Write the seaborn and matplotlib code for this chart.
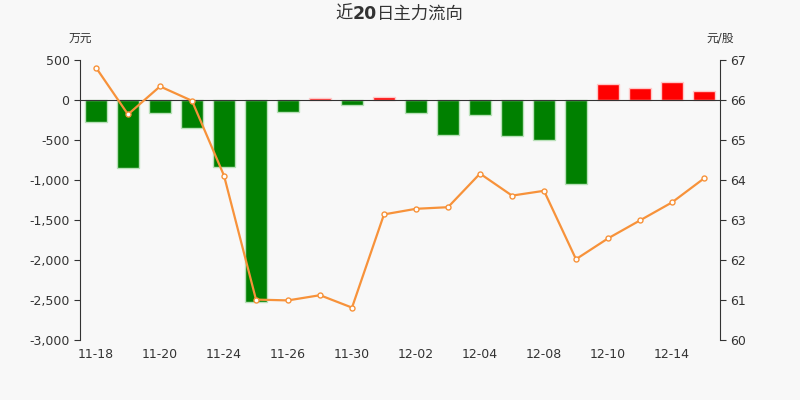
import matplotlib
matplotlib.use('Agg')
import matplotlib.pyplot as plt
import seaborn as sns
import numpy as np
import pandas as pd
from matplotlib.ticker import FuncFormatter, FixedLocator

# --
# Data

dates = ['11-18', '11-19', '11-20', '11-23', '11-24', '11-25', '11-26', '11-27', '11-30', '12-01',
         '12-02', '12-03', '12-04', '12-07', '12-08', '12-09', '12-10', '12-11', '12-14', '12-15']
flows = [-280, -855, -167, -350, -842, -2521, -150, 29, -62, 42,
         -167, -442, -188, -446, -500, -1054, 200, 154, 225, 112]  # 万元
prices = [66.81, 65.64, 66.34, 65.98, 64.11, 61.01, 60.99, 61.12, 60.81, 63.14,
          63.28, 63.32, 64.16, 63.61, 63.73, 62.02, 62.54, 62.99, 63.44, 64.04]  # 元/股
title_parts = [('近', 'normal'), ('20', 'bold'), ('日主力流向', 'normal')]

df = pd.DataFrame({'date': dates, 'flow': flows, 'price': prices})
df['pos'] = np.arange(len(df))

# --
# Style

sns.set_style('white')
plt.rcParams['font.family'] = ['DejaVu Sans', 'Noto Sans CJK SC']
bg = '#f8f8f8'
txt = '#333333'

fig = plt.figure(figsize=(8, 4), dpi=100, facecolor=bg)
ax = fig.add_axes([0.1, 0.15, 0.8, 0.7], facecolor=bg)

bar_colors = ['#ff0000' if v > 0 else '#008000' for v in df.flow]
edge_colors = ['#ffc8c8' if v > 0 else '#b8e0b8' for v in df.flow]
sns.barplot(data=df, x='date', y='flow', hue='date', palette=bar_colors,
            legend=False, width=0.69, ax=ax, saturation=1)
for patch, ec in zip(ax.patches, edge_colors):
    patch.set_edgecolor(ec)
    patch.set_linewidth(1)

ax.set_xlim(-0.5, len(df) - 0.5)
ax.set_ylim(-3000, 500)
ax.set_yticks(np.arange(-3000, 501, 500))
ax.yaxis.set_major_formatter(FuncFormatter(lambda v, p: f'{int(v):,}'))
ax.set_xlabel('')
ax.set_ylabel('')

# zero line as x axis with ticks between every 2 bars
for s in ['top', 'right']:
    ax.spines[s].set_visible(False)
ax.spines['bottom'].set_position(('data', 0))
ax.spines['bottom'].set_color(txt)
ax.spines['left'].set_color(txt)
ax.xaxis.set_major_locator(FixedLocator(np.arange(1.5, len(df) - 1, 2)))
ax.tick_params(axis='x', length=4, color=txt, labelbottom=False)
ax.tick_params(axis='y', length=4, color=txt, labelcolor=txt, labelsize=9, left=True)

sec = ax.secondary_xaxis('bottom')
sec.set_xticks(df.pos[::2], labels=df.date[::2])
sec.tick_params(length=0, labelsize=9, labelcolor=txt, pad=6)
sec.spines['bottom'].set_visible(False)

# price line
ax2 = ax.twinx()
sns.lineplot(data=df, x='pos', y='price', color='#f7923a', linewidth=1.6,
             marker='o', markersize=3.6, markerfacecolor='white',
             markeredgecolor='#f7923a', markeredgewidth=1, ax=ax2)
ax2.set_ylim(60, 67)
ax2.set_yticks(np.arange(60, 68, 1))
ax2.set_xlim(-0.5, len(df) - 0.5)
ax2.set_ylabel('')
ax2.set_xlabel('')
for s in ['top', 'left', 'bottom']:
    ax2.spines[s].set_visible(False)
ax2.spines['right'].set_color(txt)
ax2.tick_params(axis='y', length=4, color=txt, labelcolor=txt, labelsize=9, right=True)

# title: "20" bold, chinese normal, pieces laid out side by side
renderer = fig.canvas.get_renderer()
pieces = [fig.text(0, 0.965, s, ha='left', va='center', fontsize=12.5,
                   fontweight=w, color=txt) for s, w in title_parts]
widths = [p.get_window_extent(renderer).width / fig.bbox.width for p in pieces]
x0 = 0.5 - sum(widths) / 2
for p, w in zip(pieces, widths):
    p.set_x(x0)
    x0 += w

fig.text(0.1, 0.905, '万元', ha='center', va='center', fontsize=8.5, color=txt)
fig.text(0.9, 0.905, '元/股', ha='center', va='center', fontsize=8.5, color=txt)

fig.savefig('out.png', dpi=100, facecolor=bg)
